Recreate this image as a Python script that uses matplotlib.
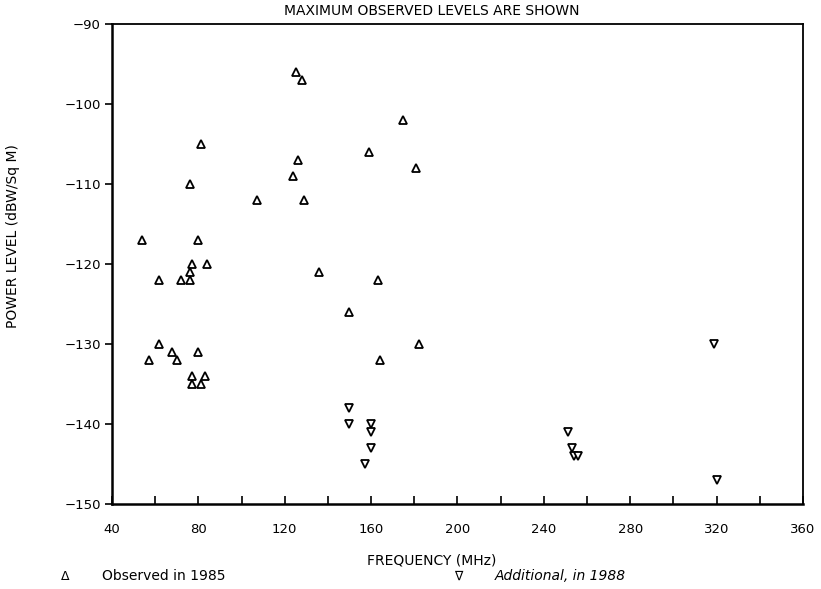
import matplotlib
matplotlib.use("Agg")
import matplotlib.pyplot as plt
from matplotlib.ticker import MultipleLocator

# observed in 1985 (up triangles)
freq_1985 = [125, 128, 175, 81, 159, 126, 181, 124, 76, 107, 129, 54, 80, 77, 84,
             76, 136, 62, 72, 76, 163, 150, 62, 182, 68, 80, 57, 70, 164, 77, 83, 77, 81]
level_1985 = [-96, -97, -102, -105, -106, -107, -108, -109, -110, -112, -112, -117, -117,
              -120, -120, -121, -121, -122, -122, -122, -122, -126, -130, -130, -131, -131,
              -132, -132, -132, -134, -134, -135, -135]

# additional, in 1988 (down triangles)
freq_1988 = [150, 150, 160, 160, 160, 157, 319, 251, 253, 254, 256, 320]
level_1988 = [-138, -140, -140, -141, -143, -145, -130, -141, -143, -144, -144, -147]

W, H = 821, 589
fig = plt.figure(figsize=(W / 100, H / 100), dpi=100)
ax = fig.add_axes([0.1364, 0.1443, 0.8416, 0.8150])

ax.plot(freq_1985, level_1985, linestyle="none", marker="^", markersize=6,
        markerfacecolor="white", markeredgecolor="black", markeredgewidth=1.3)
ax.plot(freq_1988, level_1988, linestyle="none", marker="v", markersize=6,
        markerfacecolor="white", markeredgecolor="black", markeredgewidth=1.3)

ax.set_xlim(40, 360)
ax.set_ylim(-150, -90)
ax.xaxis.set_major_locator(MultipleLocator(40))
ax.xaxis.set_minor_locator(MultipleLocator(20))
ax.yaxis.set_major_locator(MultipleLocator(10))

ax.tick_params(axis="x", which="both", direction="in", length=6, width=1.2,
               pad=14, labelsize=9.5)
ax.tick_params(axis="y", which="major", direction="out", length=5, width=1.2,
               pad=3, labelsize=9.5)

for side in ["left", "bottom"]:
    ax.spines[side].set_linewidth(1.8)
for side in ["top", "right"]:
    ax.spines[side].set_linewidth(1.3)

fig.text(432 / W, 1 - 11 / H, "MAXIMUM OBSERVED LEVELS ARE SHOWN", ha="center", va="center",
         fontsize=10)
fig.text(13 / W, 1 - 236 / H, "POWER LEVEL (dBW/Sq M)", rotation=90, ha="center",
         va="center", fontsize=10)
fig.text(432 / W, 1 - 560 / H, "FREQUENCY (MHz)", ha="center", va="center", fontsize=10)

fig.text(65 / W, 1 - 576 / H, "\u0394", ha="center", va="center", fontsize=9)
fig.text(102 / W, 1 - 576 / H, "Observed in 1985", ha="left", va="center", fontsize=10)
fig.text(458 / W, 1 - 576 / H, "\u2207", ha="center", va="center", fontsize=9)
fig.text(495 / W, 1 - 576 / H, "Additional, in 1988", ha="left", va="center", fontsize=10,
         style="italic")

fig.savefig("out.png", dpi=100)
